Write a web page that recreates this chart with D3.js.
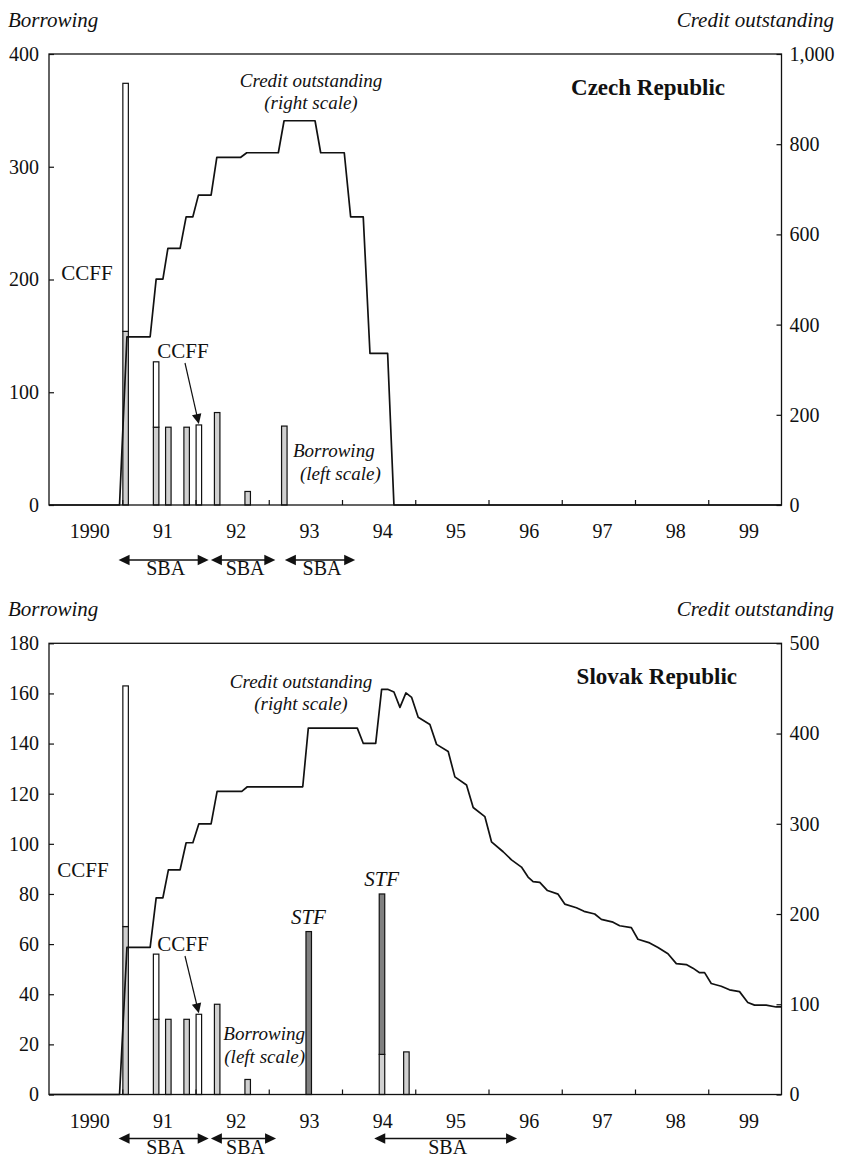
<!DOCTYPE html>
<html lang="en">
<head>
<meta charset="utf-8"/>
<title>Czech and Slovak Republics: borrowing and credit outstanding</title>
<script src="https://cdnjs.cloudflare.com/ajax/libs/d3/7.8.5/d3.min.js"></script>
<style>
  body { margin: 0; background: #fff; }
  svg text { font-family: "Liberation Serif", "DejaVu Serif", serif; fill: #111; }
</style>
</head>
<body>
<svg id="chart" width="841" height="1164"></svg>
<script>
// ---- data ----
var yearLabels = ["1990", "91", "92", "93", "94", "95", "96", "97", "98", "99"];

// Czech Republic: purchases by month (left scale)
var czBarMonths = ["1991-01", "1991-06", "1991-08", "1991-11", "1992-01", "1992-04", "1992-09", "1993-03"];
var czSBA  = [154, 69, 69, 69, 0, 82, 12, 70];
var czCCFF = [220, 58, 0, 0, 71, 0, 0, 0];
// credit outstanding (right scale), [year, value]
var czCredit = [[1990.0, 0], [1990.963, 0], [1991.064, 373], [1991.381, 373], [1991.463, 501], [1991.555, 501],
  [1991.623, 569], [1991.79, 569], [1991.872, 639], [1991.964, 639], [1992.04, 687], [1992.213, 687],
  [1992.291, 771], [1992.618, 771], [1992.70, 781], [1993.131, 781], [1993.209, 852], [1993.632, 852],
  [1993.709, 781], [1994.031, 781], [1994.118, 639], [1994.29, 639], [1994.382, 336], [1994.623, 336],
  [1994.709, 0], [2000.0, 0]];
var czSBAPeriods = [[1990.95, 1992.18], [1992.21, 1993.09], [1993.22, 1994.18]];

// Slovak Republic
var skBarMonths = ["1991-01", "1991-06", "1991-08", "1991-11", "1992-01", "1992-04", "1992-09", "1993-07", "1994-07", "1994-11"];
var skSBA  = [67, 30, 30, 30, 0, 36, 6, 0, 16, 17];
var skSTF  = [0, 0, 0, 0, 0, 0, 0, 65, 64, 0];
var skCCFF = [96, 26, 0, 0, 32, 0, 0, 0, 0, 0];
var skCredit = [[1990.0, 0], [1990.963, 0], [1991.064, 163], [1991.381, 163], [1991.463, 218], [1991.555, 218],
  [1991.63, 249], [1991.79, 249], [1991.872, 279], [1991.964, 279], [1992.046, 300], [1992.213, 300],
  [1992.295, 336], [1992.632, 336], [1992.708, 341], [1993.464, 341], [1993.54, 406], [1994.209, 406],
  [1994.291, 389], [1994.46, 389], [1994.541, 449], [1994.623, 449], [1994.709, 446], [1994.791, 429],
  [1994.873, 445], [1994.951, 440], [1995.04, 418], [1995.2, 410], [1995.291, 388], [1995.45, 380],
  [1995.541, 352], [1995.7, 343], [1995.791, 318], [1995.95, 308], [1996.041, 280], [1996.2, 269],
  [1996.314, 260], [1996.45, 252], [1996.54, 241], [1996.609, 236], [1996.7, 235], [1996.805, 226],
  [1996.95, 222], [1997.041, 211], [1997.2, 207], [1997.304, 203], [1997.45, 200], [1997.541, 194],
  [1997.7, 191], [1997.791, 187], [1997.95, 185], [1998.04, 172], [1998.2, 168], [1998.314, 163],
  [1998.45, 156], [1998.564, 145], [1998.7, 144], [1998.791, 140], [1998.882, 135], [1998.95, 135],
  [1999.041, 123], [1999.177, 120], [1999.29, 116], [1999.427, 114], [1999.54, 102], [1999.632, 99],
  [1999.791, 99], [1999.927, 97], [2000.0, 97]];
var skSBAPeriods = [[1990.95, 1992.18], [1992.21, 1993.10], [1994.44, 1996.39]];

// ---- drawing ----
var svg = d3.select("#chart");
svg.append("rect").attr("width", 841).attr("height", 1164).attr("fill", "#fff");

var FONT = '"Liberation Serif", "DejaVu Serif", serif';
var LIGHT = "#d0d0d0", DARK = "#808080";

var x = d3.scaleLinear().domain([1990, 2000]).range([49, 781.5]);
var monthW = x(1990 + 1 / 12) - x(1990);

function ym(s) { var p = s.split("-"); return +p[0] + (+p[1] - 1) / 12; }

function txt(g, s, px, py, opt) {
  opt = opt || {};
  return g.append("text").attr("x", px).attr("y", py).text(s)
    .attr("font-size", opt.size || 20)
    .attr("font-style", opt.italic ? "italic" : null)
    .attr("font-weight", opt.bold ? "bold" : null)
    .attr("text-anchor", opt.anchor || "start");
}

function arrowHead(g, tipX, tipY, dirX, dirY, len, half) {
  var nx = -dirY, ny = dirX;
  var bx = tipX - dirX * len, by = tipY - dirY * len;
  g.append("path")
    .attr("d", "M" + tipX + "," + tipY + "L" + (bx + nx * half) + "," + (by + ny * half) +
      "L" + (bx - nx * half) + "," + (by - ny * half) + "Z")
    .attr("fill", "#111");
}

function drawPanel(cfg) {
  var g = svg.append("g");
  var yL = d3.scaleLinear().domain(cfg.leftDomain).range([cfg.bottom, cfg.top]);
  var yR = d3.scaleLinear().domain(cfg.rightDomain).range([cfg.bottom, cfg.top]);

  // stacked bars: SBA, STF, CCFF
  var bars = cfg.months.map(function(m, i) {
    var parts = [], base = 0;
    cfg.series.forEach(function(s) {
      var v = s.values[i];
      if (v > 0) { parts.push({ y0: base, y1: base + v, fill: s.fill }); base += v; }
    });
    return { t: ym(m), parts: parts, total: base };
  });

  var barG = g.selectAll("g.bar").data(bars).enter().append("g").attr("class", "bar");
  barG.selectAll("rect").data(function(d) { return d.parts.map(function(p) { p.t = d.t; return p; }); })
    .enter().append("rect")
    .attr("x", function(d) { return x(d.t) + 0.6; })
    .attr("width", monthW - 0.6)
    .attr("y", function(d) { return yL(d.y1); })
    .attr("height", function(d) { return yL(d.y0) - yL(d.y1); })
    .attr("fill", function(d) { return d.fill; })
    .attr("stroke", "#111").attr("stroke-width", 1.2);

  // frame
  g.append("rect").attr("x", x.range()[0]).attr("y", cfg.top)
    .attr("width", x.range()[1] - x.range()[0]).attr("height", cfg.bottom - cfg.top)
    .attr("fill", "none").attr("stroke", "#111").attr("stroke-width", 1.3);

  // axes
  function style(a) {
    a.select(".domain").remove();
    a.attr("font-family", FONT).attr("font-size", 20).attr("color", "#111");
    a.selectAll("line").attr("stroke-width", 1.2);
  }
  g.append("g").attr("transform", "translate(" + x.range()[0] + ",0)")
    .call(d3.axisLeft(yL).tickValues(cfg.leftTicks).tickSize(-5).tickPadding(10)).call(style);
  g.append("g").attr("transform", "translate(" + x.range()[1] + ",0)")
    .call(d3.axisRight(yR).tickValues(cfg.rightTicks).tickSize(-5).tickPadding(8).tickFormat(d3.format(","))).call(style);
  g.append("g").attr("transform", "translate(0," + cfg.bottom + ")")
    .call(d3.axisBottom(x).tickValues(d3.range(1991, 2000)).tickSize(-5).tickFormat("")).call(style);

  yearLabels.forEach(function(l, i) {
    txt(g, l, x(1990 + i + 0.5) + 4, cfg.bottom + 33, { anchor: "middle" });
  });

  // credit outstanding line
  g.append("path").datum(cfg.credit)
    .attr("d", d3.line().x(function(d) { return x(d[0]); }).y(function(d) { return yR(d[1]); }))
    .attr("fill", "none").attr("stroke", "#111").attr("stroke-width", 1.7)
    .attr("stroke-linejoin", "round");

  // SBA arrows
  var ay = cfg.bottom + cfg.arrowDy;
  cfg.sba.forEach(function(p) {
    var a = x(p[0]), b = x(p[1]);
    g.append("line").attr("x1", a + 8).attr("x2", b - 8).attr("y1", ay).attr("y2", ay)
      .attr("stroke", "#111").attr("stroke-width", 1.4);
    arrowHead(g, a, ay, -1, 0, 11, 5.2);
    arrowHead(g, b, ay, 1, 0, 11, 5.2);
    txt(g, "SBA", (a + b) / 2 + 2, ay + 15, { anchor: "middle" });
  });

  // titles
  txt(g, "Borrowing", 8, cfg.top - 27, { italic: true, size: 21 });
  txt(g, "Credit outstanding", 834, cfg.top - 27, { italic: true, size: 21, anchor: "end" });
  txt(g, cfg.name, cfg.nameX, cfg.top + 41, { bold: true, size: 23, anchor: "end" });

  // annotations
  var a = cfg.notes;
  txt(g, "Credit outstanding", a.credit[0], a.credit[1], { italic: true, size: 19, anchor: "middle" });
  txt(g, "(right scale)", a.credit[0], a.credit[1] + 22, { italic: true, size: 19, anchor: "middle" });
  txt(g, "Borrowing", a.borrow[0], a.borrow[1], { italic: true, size: 19, anchor: a.borrowAnchor });
  txt(g, "(left scale)", a.borrow[0] + a.borrowShift, a.borrow[1] + 23, { italic: true, size: 19, anchor: a.borrowAnchor });
  txt(g, "CCFF", a.ccff1[0], a.ccff1[1], { size: 21, anchor: "middle" });
  txt(g, "CCFF", a.ccff2[0], a.ccff2[1], { size: 21, anchor: "middle" });

  // pointer from second CCFF label to its bar
  var tb = bars[a.pointBar];
  var tx = x(tb.t) + monthW / 2 + 0.3, ty = yL(tb.total) - 1;
  var sx = a.ccff2[0] + 2, sy = a.ccff2[1] + 5;
  var len = Math.hypot(tx - sx, ty - sy), dx = (tx - sx) / len, dy = (ty - sy) / len;
  g.append("line").attr("x1", sx).attr("y1", sy).attr("x2", tx - dx * 8).attr("y2", ty - dy * 8)
    .attr("stroke", "#111").attr("stroke-width", 1.2);
  arrowHead(g, tx, ty, dx, dy, 10, 4.8);

  (a.stf || []).forEach(function(s) {
    var b = bars[s.bar];
    txt(g, "STF", x(b.t) + monthW / 2, yL(b.total) - 8, { italic: true, size: 21, anchor: "middle" });
  });
}

drawPanel({
  name: "Czech Republic", nameX: 725,
  top: 54, bottom: 505,
  leftDomain: [0, 400], leftTicks: [0, 100, 200, 300, 400],
  rightDomain: [0, 1000], rightTicks: [0, 200, 400, 600, 800, 1000],
  months: czBarMonths,
  series: [{ values: czSBA, fill: LIGHT }, { values: czCCFF, fill: "#fff" }],
  credit: czCredit, sba: czSBAPeriods, arrowDy: 55,
  notes: { credit: [311, 87], borrow: [293, 457], borrowAnchor: "start", borrowShift: 7,
    ccff1: [87, 280], ccff2: [183, 358], pointBar: 4 }
});

drawPanel({
  name: "Slovak Republic", nameX: 737,
  top: 643.3, bottom: 1094.5,
  leftDomain: [0, 180], leftTicks: d3.range(0, 181, 20),
  rightDomain: [0, 500], rightTicks: [0, 100, 200, 300, 400, 500],
  months: skBarMonths,
  series: [{ values: skSBA, fill: LIGHT }, { values: skSTF, fill: DARK }, { values: skCCFF, fill: "#fff" }],
  credit: skCredit, sba: skSBAPeriods, arrowDy: 44,
  notes: { credit: [301, 688], borrow: [305, 1040], borrowAnchor: "end", borrowShift: 0,
    ccff1: [83, 877], ccff2: [183, 951], pointBar: 4,
    stf: [{ bar: 7 }, { bar: 8 }] }
});
</script>
</body>
</html>
